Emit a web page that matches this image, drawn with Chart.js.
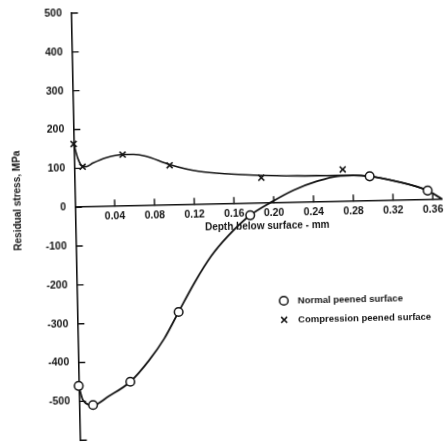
<!DOCTYPE html>
<html>
<head>
<meta charset="utf-8">
<script src="https://cdn.jsdelivr.net/npm/chart.js@4/dist/chart.umd.min.js"></script>
<style>
html,body{margin:0;padding:0;background:#fff;overflow:hidden}
#wrap{width:448px;height:443px;position:relative;overflow:hidden;background:#fff}
#c{position:absolute;left:0;top:0;transform:rotate(-1.2deg);transform-origin:224px 221.5px}
</style>
</head>
<body>
<div id="wrap"><canvas id="c" width="448" height="443"></canvas></div>
<script>
// ---- data ----
const xTickValues = [0.04, 0.08, 0.12, 0.16, 0.20, 0.24, 0.28, 0.32, 0.36];
const yTickValues = [-600, -500, -400, -300, -200, -100, 0, 100, 200, 300, 400, 500];

const seriesNames = ['Normal peened surface', 'Compression peened surface'];

// measured points (markers)
const normalDepth  = [0, 0.014, 0.052, 0.102, 0.176, 0.297, 0.355];
const normalStress = [-460, -510, -452, -275, -30, 64, 24];
const compDepth    = [0, 0.0085, 0.049, 0.096, 0.188, 0.27];
const compStress   = [163, 104, 133, 103, 66, 83];

// hand-drawn curves
const normalCurveDepth  = [0, 0.004, 0.014, 0.03, 0.052, 0.071, 0.087, 0.102, 0.119, 0.136, 0.153, 0.176, 0.197, 0.22, 0.244, 0.265, 0.28, 0.297, 0.323, 0.355, 0.369];
const normalCurveStress = [-460, -497, -510, -488, -452, -399, -343, -275, -199, -133, -83, -30, 2, 32, 54, 66, 67, 64, 50, 24, 2];
const compCurveDepth    = [0, 0.004, 0.008, 0.012, 0.019, 0.0325, 0.049, 0.06, 0.072, 0.096, 0.125, 0.158, 0.188, 0.224, 0.254, 0.28, 0.297, 0.323, 0.355, 0.369];
const compCurveStress   = [165, 125, 106, 104, 113, 126, 133, 133, 128, 105, 86, 77, 72, 69, 68, 67, 64, 50, 24, 2];

const xTitle = 'Depth below surface - mm';
const yTitle = 'Residual stress, MPa';

// ---- styling ----
const INK = '#141414';
const FONT_FAMILY = "'Liberation Sans', Arial, sans-serif";
const pts = (xs, ys) => xs.map((v, i) => ({x: v, y: ys[i]}));

const decor = {
  id: 'decor',
  afterDraw(chart) {
    const {ctx, scales: {x, y}} = chart;
    const x0 = x.getPixelForValue(0);
    const y0 = y.getPixelForValue(0);
    ctx.save();
    ctx.strokeStyle = INK;
    ctx.lineWidth = 1.4;
    ctx.beginPath();
    y.ticks.forEach(t => { const py = y.getPixelForValue(t.value); ctx.moveTo(x0, py); ctx.lineTo(x0 + 7, py); });
    x.ticks.forEach(t => { const px = x.getPixelForValue(t.value); ctx.moveTo(px, y0); ctx.lineTo(px, y0 - 7); });
    ctx.stroke();

    ctx.fillStyle = INK;
    ctx.font = 'bold 10px ' + FONT_FAMILY;
    // x axis title
    ctx.textAlign = 'center';
    ctx.textBaseline = 'middle';
    ctx.fillText(xTitle, x.getPixelForValue(0.193), y0 + 23);
    // y axis title
    ctx.save();
    ctx.translate(18, y.getPixelForValue(20));
    ctx.rotate(-Math.PI / 2);
    ctx.fillText(yTitle, 0, 0);
    ctx.restore();

    // legend
    const lx = x.getPixelForValue(0.208);
    const ly = y.getPixelForValue(-252);
    ctx.textAlign = 'left';
    ctx.fillStyle = '#fff';
    ctx.strokeStyle = INK;
    ctx.lineWidth = 1.5;
    Chart.helpers.drawPoint(ctx, {pointStyle: 'circle', radius: 4.3, borderWidth: 1.5}, lx, ly);
    ctx.lineWidth = 1.6;
    Chart.helpers.drawPoint(ctx, {pointStyle: 'crossRot', radius: 4.2, borderWidth: 1.6}, lx, ly + 19);
    ctx.fillStyle = INK;
    ctx.font = 'bold 9.5px ' + FONT_FAMILY;
    ctx.fillText(seriesNames[0], lx + 14, ly);
    ctx.fillText(seriesNames[1], lx + 14, ly + 19);
    ctx.restore();
  }
};

new Chart(document.getElementById('c'), {
  type: 'scatter',
  data: {
    datasets: [
      {label: seriesNames[0], data: pts(normalDepth, normalStress), showLine: false,
       pointStyle: 'circle', pointRadius: 4.3, pointBackgroundColor: '#fff',
       pointBorderColor: INK, pointBorderWidth: 1.5, clip: false},
      {label: seriesNames[1], data: pts(compDepth, compStress), showLine: false,
       pointStyle: 'crossRot', pointRadius: 4.2, pointBorderColor: INK,
       pointBorderWidth: 1.6, clip: false},
      {label: 'normal curve', data: pts(normalCurveDepth, normalCurveStress), showLine: true,
       borderColor: INK, borderWidth: 1.8, pointRadius: 0, cubicInterpolationMode: 'monotone', clip: false},
      {label: 'compression curve', data: pts(compCurveDepth, compCurveStress), showLine: true,
       borderColor: INK, borderWidth: 1.6, pointRadius: 0, cubicInterpolationMode: 'monotone', clip: false}
    ]
  },
  options: {
    responsive: false,
    animation: false,
    devicePixelRatio: 1,
    layout: {padding: {left: 0, right: 0.5, top: 10, bottom: 4}},
    plugins: {legend: {display: false}, tooltip: {enabled: false}},
    scales: {
      x: {
        type: 'linear', min: 0, max: 0.369, position: {y: 0},
        afterBuildTicks: s => { s.ticks = xTickValues.map(v => ({value: v})); },
        afterFit: s => { s.height = 0; s.paddingLeft = 0; s.paddingRight = 0; s.paddingTop = 0; s.paddingBottom = 0; },
        grid: {display: false, drawTicks: false},
        border: {display: true, color: INK, width: 1.6},
        ticks: {padding: 4, color: INK, autoSkip: false, maxRotation: 0,
                font: {family: FONT_FAMILY, size: 10.5, weight: 'bold'},
                callback: v => Number(v).toFixed(2)}
      },
      y: {
        type: 'linear', min: -600, max: 500,
        afterBuildTicks: s => { s.ticks = yTickValues.map(v => ({value: v})); },
        afterFit: s => { s.width = 75.3; s.paddingTop = 0; s.paddingBottom = 0; },
        grid: {display: false, drawTicks: false},
        border: {display: true, color: INK, width: 1.6},
        ticks: {padding: 9, color: INK, autoSkip: false,
                font: {family: FONT_FAMILY, size: 10.5, weight: 'bold'},
                callback: v => (v === -600 ? '' : String(v))}
      }
    }
  },
  plugins: [decor]
});
</script>
</body>
</html>
